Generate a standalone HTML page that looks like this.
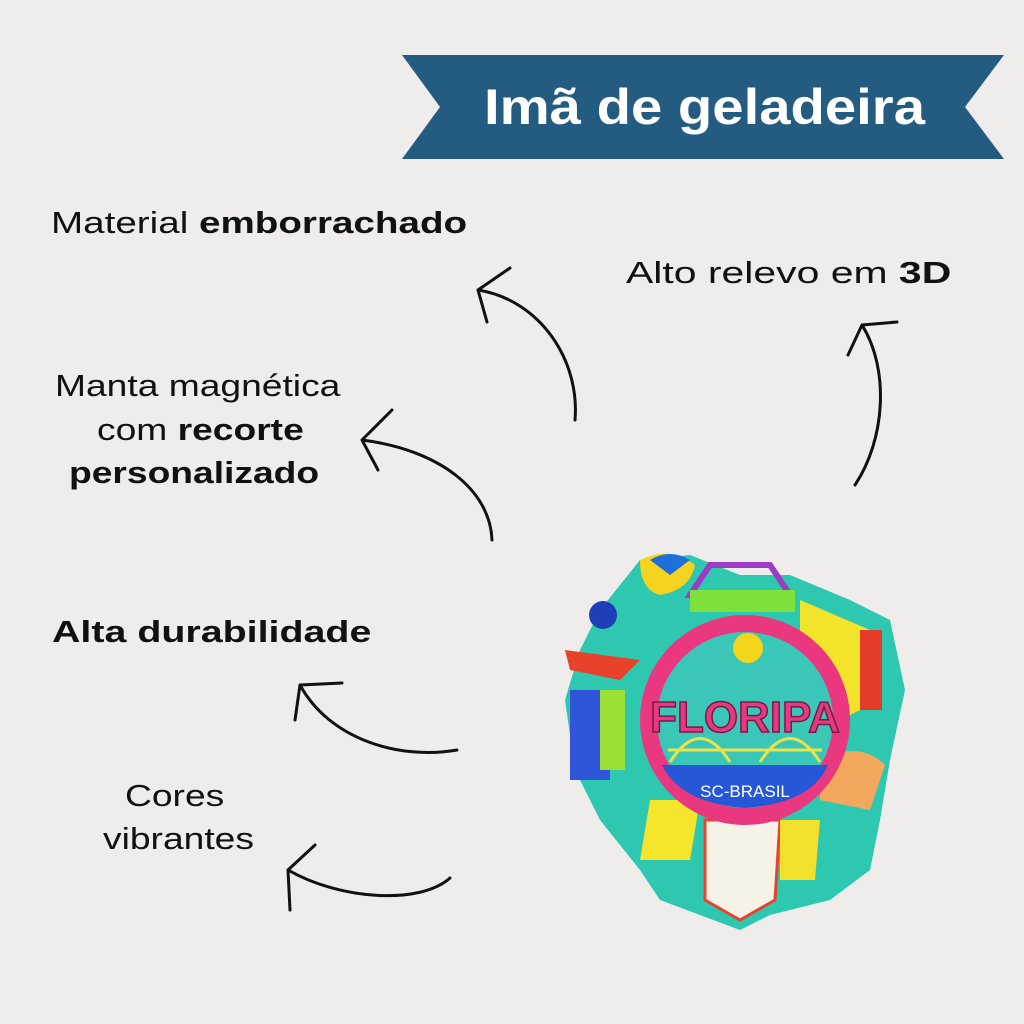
<!DOCTYPE html>
<html><head><meta charset="utf-8"><style>
body{margin:0;width:1024px;height:1024px;background:#efecec;position:relative;overflow:hidden;font-family:"Liberation Sans",sans-serif;color:#111}
.t{position:absolute;font-size:31px;line-height:44px;white-space:nowrap;transform-origin:0 50%}
b{font-weight:bold}
svg{position:absolute;left:0;top:0}
</style></head><body>
<svg width="1024" height="1024" viewBox="0 0 1024 1024">
<polygon points="402,55 1004,55 965,107 1004,159 402,159 440,107" fill="#245b80"/>
<text x="484" y="124" textLength="441" lengthAdjust="spacingAndGlyphs" font-family="Liberation Sans" font-weight="bold" font-size="50" fill="#fff">Imã de geladeira</text>
<g fill="none" stroke="#111" stroke-width="3" stroke-linecap="round">
<path d="M575,420 C580,360 540,300 478,290 M478,290 L510,268 M478,290 L487,322"/>
<path d="M492,540 C490,490 440,450 362,440 M362,440 L392,410 M362,440 L378,470"/>
<path d="M855,485 C885,440 890,370 862,325 M862,325 L848,355 M862,325 L897,322"/>
<path d="M457,750 C400,760 330,740 300,685 M300,685 L342,683 M300,685 L295,720"/>
<path d="M450,878 C420,905 340,900 288,870 M288,870 L315,845 M288,870 L290,910"/>
</g>
<g>
<path d="M600,610 L640,560 L690,555 L740,575 L790,575 L850,600 L890,620 L905,690 L890,760 L880,820 L870,870 L830,900 L770,915 L740,930 L700,915 L660,900 L640,870 L600,820 L575,770 L565,700 L580,650 Z" fill="#2ec7b0"/>
<path d="M640,560 Q670,545 695,565 Q690,590 660,595 Q640,590 640,560Z" fill="#f5d31f"/>
<path d="M650,560 Q670,548 690,560 L670,575 Z" fill="#1e6fd9"/>
<path d="M690,595 L710,565 L770,565 L790,595 Z" fill="none" stroke="#9b3cc5" stroke-width="6"/>
<rect x="690" y="590" width="105" height="22" fill="#7ee03a"/>
<path d="M800,600 L870,630 L880,700 L840,720 L800,640Z" fill="#f3e32a"/>
<rect x="860" y="630" width="22" height="80" fill="#e53c2a"/>
<rect x="570" y="690" width="40" height="90" fill="#2f56d9"/>
<rect x="600" y="690" width="25" height="80" fill="#9be034"/>
<path d="M565,650 L640,660 L620,680 L570,670Z" fill="#e8432a"/>
<circle cx="603" cy="615" r="14" fill="#1f3fb8"/>
<path d="M820,760 Q860,740 885,765 L870,810 L820,800Z" fill="#f2a95e"/>
<path d="M650,800 L700,800 L690,860 L640,860Z" fill="#f5e52c"/>
<path d="M705,820 L780,820 L775,900 L740,920 L705,900Z" fill="#f6f3e6" stroke="#e64332" stroke-width="3"/>
<path d="M780,820 L820,820 L815,880 L780,880Z" fill="#f3e02b"/>
<circle cx="745" cy="720" r="105" fill="#e9387f"/>
<circle cx="745" cy="720" r="88" fill="#3bc7b8"/>
<path d="M662,765 L828,765 Q812,803 745,808 Q680,803 662,765Z" fill="#2557d6"/>
<circle cx="748" cy="648" r="15" fill="#f6d51d"/>
<path d="M670,762 Q700,715 730,762 M760,762 Q790,715 820,762 M668,750 L822,750" fill="none" stroke="#e8e34a" stroke-width="3"/>
<text x="745" y="732" text-anchor="middle" font-family="Liberation Sans" font-weight="bold" font-size="44" fill="#e43a82" stroke="#7a1844" stroke-width="1.5">FLORIPA</text>
<text x="745" y="797" text-anchor="middle" font-family="Liberation Sans" font-size="17" fill="#fff">SC-BRASIL</text>
</g>
</svg>
<div class="t" style="left:51px;top:201px;transform:scaleX(1.245)">Material <b>emborrachado</b></div>
<div class="t" style="left:626px;top:251px;transform:scaleX(1.32)">Alto relevo em <b>3D</b></div>
<div class="t" style="left:55px;top:364px;transform:scaleX(1.2)">Manta magnética</div>
<div class="t" style="left:97px;top:408px;transform:scaleX(1.2)">com <b>recorte</b></div>
<div class="t" style="left:69px;top:451px;transform:scaleX(1.2)"><b>personalizado</b></div>
<div class="t" style="left:52px;top:610px;transform:scaleX(1.27)"><b>Alta durabilidade</b></div>
<div class="t" style="left:125px;top:774px;transform:scaleX(1.2)">Cores</div>
<div class="t" style="left:103px;top:817px;transform:scaleX(1.2)">vibrantes</div>
</body></html>
